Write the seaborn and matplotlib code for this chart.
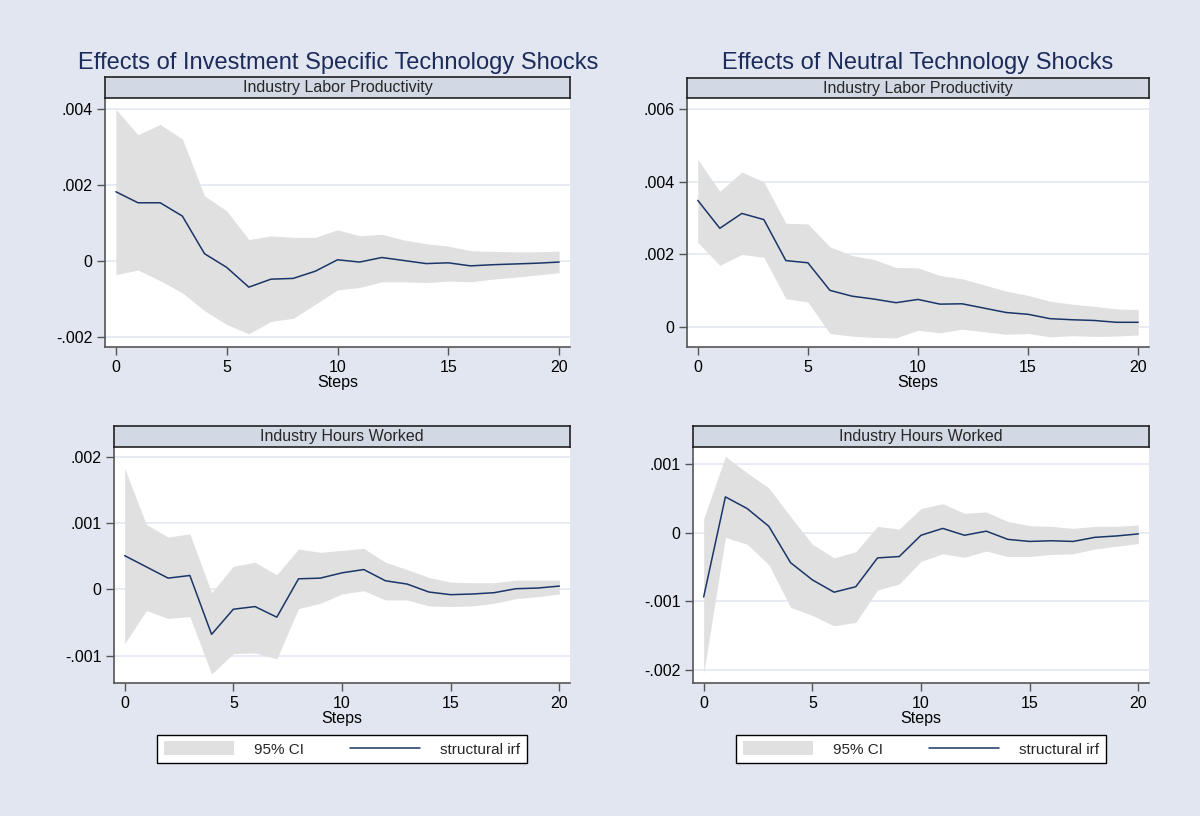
import numpy as np
import pandas as pd
import matplotlib
matplotlib.use('Agg')
import matplotlib.pyplot as plt
import seaborn as sns
from matplotlib.patches import Patch
from matplotlib.lines import Line2D
from matplotlib.ticker import FuncFormatter

steps = list(range(21))

# investment specific shock, labor productivity
ist_lp_irf = [0.00183, 0.00154, 0.00154, 0.00119, 0.00020, -0.00016, -0.00068, -0.00047, -0.00045, -0.00026,
              0.00004, -0.00002, 0.00010, 0.00002, -0.00006, -0.00004, -0.00012, -0.00009, -0.00007, -0.00005, -0.00002]
ist_lp_hi = [0.00400, 0.00333, 0.00360, 0.00322, 0.00172, 0.00133, 0.00057, 0.00067, 0.00063, 0.00063,
             0.00083, 0.00067, 0.00071, 0.00056, 0.00046, 0.00040, 0.00028, 0.00026, 0.00025, 0.00025, 0.00027]
ist_lp_lo = [-0.00035, -0.00023, -0.00051, -0.00083, -0.00130, -0.00166, -0.00191, -0.00158, -0.00150, -0.00113,
             -0.00075, -0.00069, -0.00054, -0.00054, -0.00056, -0.00052, -0.00054, -0.00047, -0.00042, -0.00036, -0.00030]

# neutral shock, labor productivity
nt_lp_irf = [0.00349, 0.00272, 0.00313, 0.00296, 0.00183, 0.00177, 0.00101, 0.00085, 0.00077, 0.00067,
             0.00076, 0.00063, 0.00064, 0.00052, 0.00040, 0.00035, 0.00023, 0.00020, 0.00018, 0.00013, 0.00013]
nt_lp_hi = [0.00462, 0.00374, 0.00427, 0.00400, 0.00286, 0.00284, 0.00221, 0.00197, 0.00186, 0.00164,
            0.00163, 0.00142, 0.00133, 0.00116, 0.00099, 0.00087, 0.00071, 0.00063, 0.00057, 0.00050, 0.00048]
nt_lp_lo = [0.00233, 0.00170, 0.00200, 0.00192, 0.00078, 0.00069, -0.00018, -0.00025, -0.00029, -0.00030,
            -0.00009, -0.00016, -0.00006, -0.00013, -0.00020, -0.00018, -0.00027, -0.00024, -0.00026, -0.00025, -0.00022]

# investment specific shock, hours worked
ist_hw_irf = [0.00051, 0.00034, 0.00017, 0.00021, -0.00068, -0.00030, -0.00026, -0.00042, 0.00016, 0.00017,
              0.00025, 0.00030, 0.00013, 0.00008, -0.00004, -0.00008, -0.00007, -0.00005, 0.00001, 0.00002, 0.00005]
ist_hw_hi = [0.00183, 0.00098, 0.00079, 0.00084, -0.00005, 0.00035, 0.00041, 0.00022, 0.00061, 0.00056,
             0.00059, 0.00062, 0.00041, 0.00030, 0.00018, 0.00011, 0.00010, 0.00010, 0.00014, 0.00014, 0.00014]
ist_hw_lo = [-0.00082, -0.00032, -0.00044, -0.00041, -0.00128, -0.00097, -0.00096, -0.00105, -0.00029, -0.00021,
             -0.00007, -0.00002, -0.00016, -0.00016, -0.00025, -0.00026, -0.00025, -0.00021, -0.00014, -0.00011, -0.00007]

# neutral shock, hours worked
nt_hw_irf = [-0.00094, 0.00052, 0.00035, 0.00009, -0.00044, -0.00069, -0.00087, -0.00079, -0.00037, -0.00035,
             -0.00004, 0.00006, -0.00004, 0.00002, -0.00010, -0.00013, -0.00012, -0.00013, -0.00007, -0.00005, -0.00002]
nt_hw_hi = [0.00020, 0.00111, 0.00087, 0.00065, 0.00023, -0.00017, -0.00037, -0.00028, 0.00009, 0.00005,
            0.00035, 0.00042, 0.00028, 0.00030, 0.00016, 0.00010, 0.00009, 0.00006, 0.00009, 0.00009, 0.00011]
nt_hw_lo = [-0.00206, -0.00007, -0.00017, -0.00047, -0.00109, -0.00121, -0.00136, -0.00131, -0.00084, -0.00075,
            -0.00042, -0.00031, -0.00036, -0.00027, -0.00035, -0.00035, -0.00032, -0.00031, -0.00024, -0.00020, -0.00016]

titles = ['Effects of Investment Specific Technology Shocks', 'Effects of Neutral Technology Shocks']
strip_labels = ['Industry Labor Productivity', 'Industry Hours Worked']

sns.set_theme(style='white')
plt.rcParams['font.family'] = ['Liberation Sans', 'DejaVu Sans']

bg = '#e1e6f0'
strip_col = '#d2d9e5'
ci_col = '#e0e0e0'
line_col = '#1a3668'
grid_col = '#e3e8f2'
title_col = '#1c2b5a'

W, H = 1200, 816
fig = plt.figure(figsize=(12, 8.16), dpi=100, facecolor=bg)


def px_box(x0, y0, x1, y1):
    return [x0 / W, 1 - y1 / H, (x1 - x0) / W, (y1 - y0) / H]


def fmt(v, pos):
    if abs(v) < 1e-12:
        return '0'
    return f'{v:.3f}'.replace('0.', '.')


panels = [
    # plot box, strip box, data, yticks, ylim, strip label
    ((105, 98, 570, 347), (105, 77, 570, 98), (ist_lp_irf, ist_lp_lo, ist_lp_hi),
     [-0.002, 0, 0.002, 0.004], (-0.002255, 0.004297), strip_labels[0]),
    ((687, 98, 1149, 347), (687, 78, 1149, 98), (nt_lp_irf, nt_lp_lo, nt_lp_hi),
     [0, 0.002, 0.004, 0.006], (-0.000551, 0.006311), strip_labels[0]),
    ((114, 447, 570, 683), (114, 426, 570, 447), (ist_hw_irf, ist_hw_lo, ist_hw_hi),
     [-0.001, 0, 0.001, 0.002], (-0.001415, 0.002152), strip_labels[1]),
    ((693, 447, 1149, 683), (693, 426, 1149, 447), (nt_hw_irf, nt_hw_lo, nt_hw_hi),
     [-0.002, -0.001, 0, 0.001], (-0.002194, 0.001247), strip_labels[1]),
]

for box, sbox, (irf, lo, hi), yt, yl, lab in panels:
    ax = fig.add_axes(px_box(*box))
    ax.set_facecolor('white')
    df = pd.DataFrame({'step': steps, 'irf': irf, 'lo': lo, 'hi': hi})
    ax.fill_between(df['step'], df['lo'], df['hi'], color=ci_col, lw=0, zorder=1)
    sns.lineplot(data=df, x='step', y='irf', color=line_col, lw=1.1, ax=ax, zorder=3)
    ax.set_xlim(-0.49, 20.49)
    ax.set_ylim(*yl)
    ax.set_yticks(yt)
    ax.set_xticks([0, 5, 10, 15, 20])
    ax.yaxis.set_major_formatter(FuncFormatter(fmt))
    ax.grid(axis='y', color=grid_col, lw=1.2, zorder=0)
    ax.set_axisbelow(True)
    for s in ['top', 'right']:
        ax.spines[s].set_visible(False)
    for s in ['left', 'bottom']:
        ax.spines[s].set_color('#555555')
        ax.spines[s].set_linewidth(1.2)
    ax.tick_params(axis='both', direction='out', length=6, width=1, color='#555555',
                   labelsize=11.5, labelcolor='black', pad=3, left=True, bottom=True)
    ax.set_xlabel('Steps', fontsize=11.5, labelpad=0, color='black')
    ax.set_ylabel('')

    sax = fig.add_axes(px_box(*sbox))
    sax.set_facecolor(strip_col)
    sax.set_xticks([])
    sax.set_yticks([])
    for s in sax.spines.values():
        s.set_color('#222222')
        s.set_linewidth(1.2)
    sax.text(0.5, 0.48, lab, ha='center', va='center', fontsize=11.5, transform=sax.transAxes)

fig.text(338 / W, 1 - 63 / H, titles[0], ha='center', va='center', fontsize=17, color=title_col)
fig.text(918 / W, 1 - 63 / H, titles[1], ha='center', va='center', fontsize=17, color=title_col)

handles = [Patch(facecolor=ci_col, edgecolor='none'), Line2D([0], [0], color=line_col, lw=1.1)]
for cx in [342, 921]:
    leg = fig.legend(handles, ['95% CI', 'structural irf'], loc='center',
                     bbox_to_anchor=(cx / W, 1 - 749 / H), ncol=2, fontsize=11,
                     frameon=True, fancybox=False, handlelength=4.6, handleheight=1.0,
                     handletextpad=1.3, columnspacing=3.0, borderpad=0.45)
    fr = leg.get_frame()
    fr.set_edgecolor('black')
    fr.set_linewidth(1.0)
    fr.set_facecolor('white')
    fr.set_alpha(1)

fig.savefig('out.png', dpi=100, facecolor=bg)
